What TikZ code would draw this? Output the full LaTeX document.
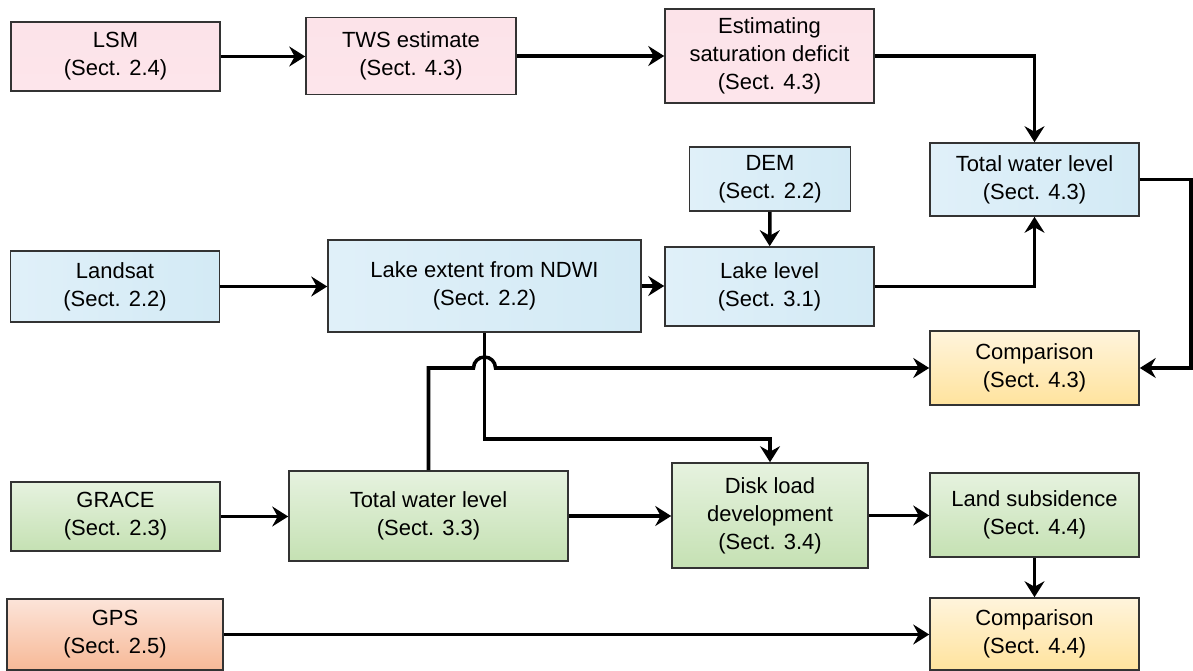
\documentclass[tikz,border=0pt]{standalone}
\usepackage{fontspec}
\setmainfont{Liberation Sans}
\usetikzlibrary{arrows.meta, positioning}
\definecolor{pinkT}{HTML}{FCE3E9}
\definecolor{pinkB}{HTML}{FDE5EB}
\definecolor{blueL}{HTML}{E0F0F9}
\definecolor{blueR}{HTML}{D3EAF5}
\definecolor{yelT}{HTML}{FFF4DC}
\definecolor{yelB}{HTML}{FFE39D}
\definecolor{grnT}{HTML}{E6F2DF}
\definecolor{grnB}{HTML}{C5E1B3}
\definecolor{orgT}{HTML}{FCE4D9}
\definecolor{orgB}{HTML}{F7B997}
\tikzset{
  blk/.style={draw=black!80, line width=0.9pt, align=center, inner sep=2pt,
    font=\fontsize{12.5}{16}\selectfont},
  sz/.style 2 args={minimum width=#1*0.02cm, minimum height=#2*0.02cm},
  pinkbox/.style={blk, top color=pinkT, bottom color=pinkB},
  bluebox/.style={blk, left color=blueL, right color=blueR},
  yelbox/.style={blk, top color=yelT, bottom color=yelB},
  grnbox/.style={blk, top color=grnT, bottom color=grnB},
  orgbox/.style={blk, top color=orgT, bottom color=orgB},
  flow/.style={line width=2pt, -{Stealth[length=3.2mm, width=4mm, inset=1.1mm]}}
}

\begin{document}
\begin{tikzpicture}[x=0.02cm, y=-0.02cm]
  \useasboundingbox (0,0) rectangle (1193,671);

  % top row
  \node[pinkbox, sz={209}{69}] (lsm) at (115.5,56.5) {LSM\\(Sect. 2.4)};
  \node[pinkbox, sz={210}{77}] (tws) at (411,56) {TWS estimate\\(Sect. 4.3)};
  \node[pinkbox, sz={209}{94}] (satdef) at (769.5,56) {Estimating\\saturation deficit\\(Sect. 4.3)};
  \node[bluebox, sz={209}{73}] (twl) at (1034.5,179.5) {Total water level\\(Sect. 4.3)};
  \node[bluebox, sz={161}{64}] (dem) at (770,179) {DEM\\(Sect. 2.2)};

  % lake row
  \node[bluebox, sz={209}{71}] (landsat) at (115,286.5) {Landsat\\(Sect. 2.2)};
  \node[bluebox, sz={313}{92}] (lakeext) at (484.5,286) {Lake extent from NDWI\\(Sect. 2.2)};
  \node[bluebox, sz={209}{79}] (lakelvl) at (769.5,286.5) {Lake level\\(Sect. 3.1)};
  \node[yelbox, sz={209}{74}] (comp1) at (1034.5,368) {Comparison\\(Sect. 4.3)};

  % GRACE / GPS rows
  \node[grnbox, sz={209}{69}] (grace) at (115.5,516.5) {GRACE\\(Sect. 2.3)};
  \node[grnbox, sz={279}{90}] (twlgr) at (428.5,516) {Total water level\\(Sect. 3.3)};
  \node[grnbox, sz={196}{105}] (disk) at (770,515.5) {Disk load\\development\\(Sect. 3.4)};
  \node[grnbox, sz={209}{84}] (subs) at (1034.5,515) {Land subsidence\\(Sect. 4.4)};
  \node[orgbox, sz={216}{71}] (gps) at (115,634.5) {GPS\\(Sect. 2.5)};
  \node[yelbox, sz={209}{72}] (comp2) at (1034.5,634) {Comparison\\(Sect. 4.4)};

  \coordinate (rgt) at (1191,0);
  \coordinate (jmp) at (lakeext.south |- comp1.west);

  \draw[flow] (lsm.east) -- (lsm.east -| tws.west);
  \draw[flow] (tws.east) -- (tws.east -| satdef.west);
  \draw[flow] (satdef.east) -| (twl.north);
  \draw[flow] (dem) -- (lakelvl);
  \draw[flow] (landsat.east) -- (landsat.east -| lakeext.west);
  \draw[flow] (lakeext.east) -- (lakeext.east -| lakelvl.west);
  \draw[flow] (lakelvl.east) -| (twl.south);
  \draw[flow] (twl.east) -- (twl.east -| rgt) |- (comp1.east);
  \draw[flow] (twlgr.north) |- ([xshift=-0.22cm]jmp)
    arc[start angle=180, end angle=0, radius=0.22cm] -- (comp1.west);
  \draw[flow] (lakeext.south) -- ++(0,106) -| (disk.north);
  \draw[flow] (grace.east) -- (grace.east -| twlgr.west);
  \draw[flow] (twlgr.east) -- (twlgr.east -| disk.west);
  \draw[flow] (disk.east) -- (disk.east -| subs.west);
  \draw[flow] (subs) -- (comp2);
  \draw[flow] (gps.east) -- (gps.east -| comp2.west);
\end{tikzpicture}
\end{document}
